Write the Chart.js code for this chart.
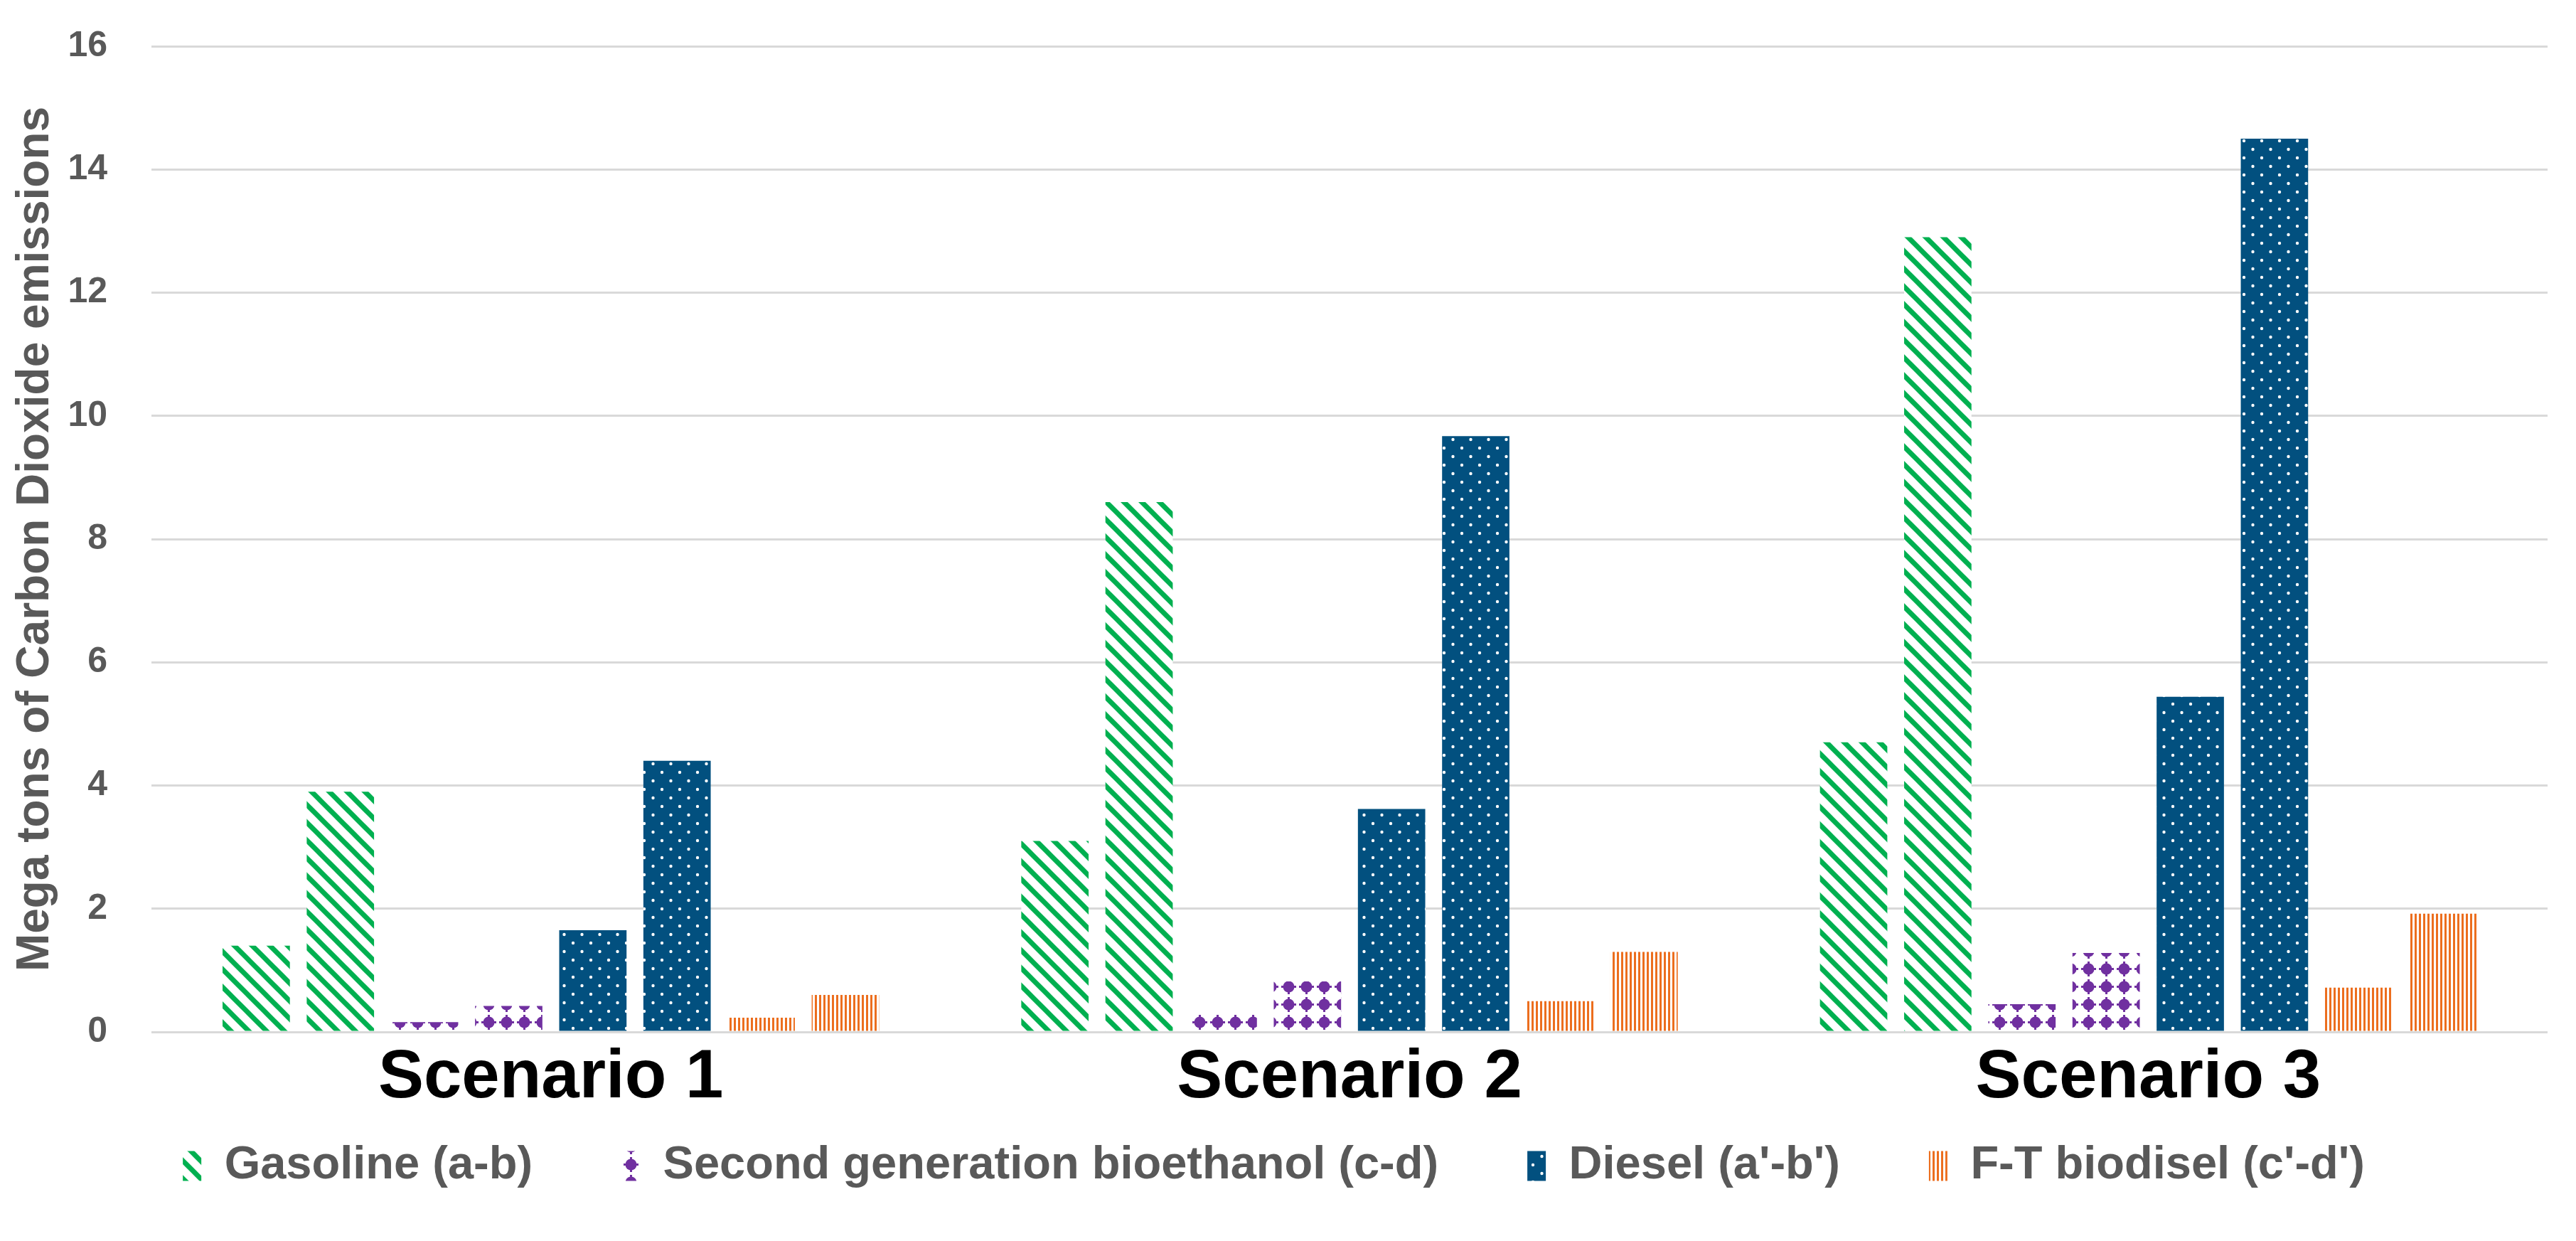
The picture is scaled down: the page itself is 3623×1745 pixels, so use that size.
<!DOCTYPE html>
<html>
<head>
<meta charset="utf-8">
<script src="https://cdn.jsdelivr.net/npm/chart.js@4"></script>
<style>
  html, body { margin: 0; padding: 0; background: #fff; }
  #wrap { width: 3623px; height: 1745px; }
</style>
</head>
<body>
<div id="wrap"><canvas id="myChart" width="3623" height="1745"></canvas></div>
<script>
// data
const scenarios = ["Scenario 1", "Scenario 2", "Scenario 3"];
const gasolineA = [1.4, 3.1, 4.7];
const gasolineB = [3.9, 8.6, 12.9];
const bioethanolC = [0.16, 0.32, 0.45];
const bioethanolD = [0.42, 0.82, 1.28];
const dieselA = [1.65, 3.62, 5.44];
const dieselB = [4.4, 9.67, 14.5];
const ftC = [0.23, 0.5, 0.72];
const ftD = [0.6, 1.3, 1.92];
const legendNames = ["Gasoline (a-b)", "Second generation bioethanol (c-d)", "Diesel (a'-b')", "F-T biodisel (c'-d')"];
const yTicks = [0, 2, 4, 6, 8, 10, 12, 14, 16];

// patterns
function tile(w, h, draw) {
  const c = document.createElement("canvas");
  c.width = w; c.height = h;
  const g = c.getContext("2d");
  draw(g, w, h);
  return g.createPattern(c, "repeat");
}

const greenStripes = tile(25, 25, (g, w) => {
  g.fillStyle = "#fff"; g.fillRect(0, 0, w, w);
  g.strokeStyle = "#00B050"; g.lineWidth = 7;
  for (let k = -w; k <= w; k += w) {
    g.beginPath(); g.moveTo(k - 5, -5); g.lineTo(k + w + 5, w + 5); g.stroke();
  }
});

const purpleDots = tile(25, 25, (g, w) => {
  g.fillStyle = "#fff"; g.fillRect(0, 0, w, w);
  g.fillStyle = "#7030A0";
  g.beginPath(); g.arc(12.5, 12.5, 8, 0, Math.PI * 2); g.fill();
  g.fillRect(11, 2, 3, 21);
  g.fillRect(2, 11, 21, 3);
});

const blueDots = tile(25, 24, (g) => {
  g.fillStyle = "#02507F"; g.fillRect(0, 0, 25, 24);
  g.fillStyle = "#fff";
  g.beginPath(); g.arc(6, 6, 2.2, 0, Math.PI * 2); g.fill();
  g.beginPath(); g.arc(18.5, 18, 2.2, 0, Math.PI * 2); g.fill();
});

const orangeLines = tile(6, 4, (g) => {
  g.fillStyle = "#fff"; g.fillRect(0, 0, 6, 4);
  g.fillStyle = "#EC6E1E"; g.fillRect(0, 0, 3, 4);
});

function ds(label, data, fill) {
  return {
    label: label,
    data: data,
    backgroundColor: fill,
    borderWidth: 0,
    barPercentage: 0.8,
    categoryPercentage: 0.843,
  };
}

const data = {
  labels: scenarios,
  datasets: [
    ds(legendNames[0], gasolineA, greenStripes),
    ds(legendNames[0], gasolineB, greenStripes),
    ds(legendNames[1], bioethanolC, purpleDots),
    ds(legendNames[1], bioethanolD, purpleDots),
    ds(legendNames[2], dieselA, blueDots),
    ds(legendNames[2], dieselB, blueDots),
    ds(legendNames[3], ftC, orangeLines),
    ds(legendNames[3], ftD, orangeLines),
  ],
};

const font = "'Liberation Sans', Arial, sans-serif";

// legend sits closer to the axis labels than chart.js would put it
const legendShift = {
  id: "legendShift",
  afterLayout(chart) {
    chart.legend.top -= 84;
    chart.legend.height += 84;
  },
};

const config = {
  type: "bar",
  data: data,
  plugins: [legendShift],
  options: {
    responsive: false,
    animation: false,
    devicePixelRatio: 1,
    layout: { padding: { top: 0, right: 40, bottom: 0, left: 0 } },
    plugins: {
      tooltip: { enabled: false },
      legend: {
        position: "bottom",
        maxHeight: 179,
        labels: {
          filter: (item) => item.datasetIndex % 2 === 0,
          boxWidth: 26,
          boxHeight: 42,
          padding: 125,
          color: "#595959",
          font: { family: font, size: 65, weight: "bold" },
        },
      },
    },
    scales: {
      x: {
        afterFit: (s) => { s.height = 115; },
        grid: { display: false },
        border: { display: false },
        ticks: {
          color: "#000",
          padding: 0,
          font: { family: font, size: 96, weight: "bold" },
        },
      },
      y: {
        min: 0,
        max: 16,
        afterFit: (s) => { s.width = 213; s.paddingTop = 65; s.paddingBottom = 10; },
        afterBuildTicks: (s) => { s.ticks = yTicks.map((v) => ({ value: v })); },
        grid: { color: "#D9D9D9", lineWidth: 3, drawTicks: false },
        border: { display: false },
        ticks: {
          color: "#595959",
          padding: 62,
          font: { family: font, size: 50, weight: "bold" },
        },
        title: {
          display: true,
          text: "Mega tons of Carbon Dioxide emissions",
          color: "#595959",
          padding: { top: 12, bottom: 0 },
          font: { family: font, size: 64, weight: "bold" },
        },
      },
    },
  },
};

const myChart = new Chart(document.getElementById("myChart"), config);
</script>
</body>
</html>
